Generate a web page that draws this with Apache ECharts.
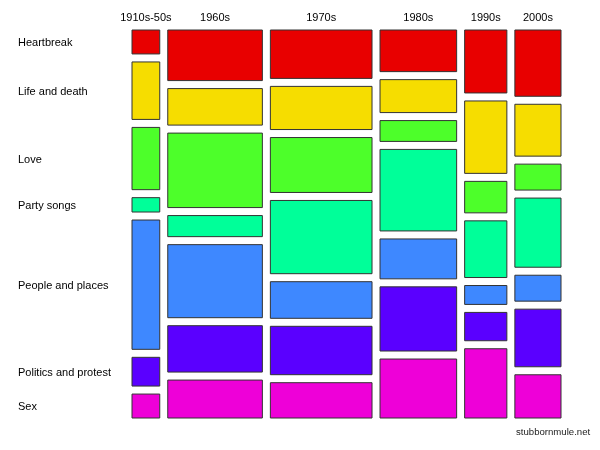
<!DOCTYPE html>
<html>
<head>
<meta charset="utf-8">
<script src="https://cdn.jsdelivr.net/npm/echarts@6/dist/echarts.min.js"></script>
<style>html,body{margin:0;padding:0;background:#fff}#c{width:600px;height:450px}</style>
</head>
<body>
<div id="c"></div>
<script>
var decades = ['1910s-50s', '1960s', '1970s', '1980s', '1990s', '2000s'];
var themes = ['Heartbreak', 'Life and death', 'Love', 'Party songs', 'People and places', 'Politics and protest', 'Sex'];
// counts per decade, in theme order
var heartbreak = [5, 36, 37, 24, 20, 23];
var lifeDeath  = [12, 26, 33, 19, 23, 18];
var love       = [13, 53, 42, 12, 10, 9];
var party      = [3, 15, 56, 47, 18, 24];
var people     = [27, 52, 28, 23, 6, 9];
var politics   = [6, 33, 37, 37, 9, 20];
var sex        = [5, 27, 27, 34, 22, 15];
var colors = ['#E80000', '#F6DD00', '#4DFF2A', '#00FF99', '#3E88FF', '#5A00FF', '#EE00D8'];

var series = [heartbreak, lifeDeath, love, party, people, politics, sex];
var colTotals = decades.map(function (d, i) {
  return series.reduce(function (s, arr) { return s + arr[i]; }, 0);
});
var grand = colTotals.reduce(function (a, b) { return a + b; }, 0);
var GAP = 8;

var cells = [];
var xCum = 0;
decades.forEach(function (d, ci) {
  var yCum = 0;
  series.forEach(function (arr, ri) {
    var f = arr[ci] / colTotals[ci];
    cells.push([ci, ri, xCum, xCum + colTotals[ci], yCum, yCum + f]);
    yCum += f;
  });
  xCum += colTotals[ci];
});

var chart = echarts.init(document.getElementById('c'));
chart.setOption({
  animation: false,
  grid: { left: 132, top: 30, width: 429 - 5 * GAP, height: 388 - 6 * GAP },
  xAxis: { type: 'value', min: 0, max: grand, show: false },
  yAxis: { type: 'value', min: 0, max: 1, inverse: true, show: false },
  graphic: [{
    type: 'text', left: 516, top: 427,
    style: { text: 'stubbornmule.net', fontFamily: 'Liberation Sans, Arial, sans-serif', fontSize: 9.6, fill: '#222' }
  }],
  series: [{
    type: 'custom',
    clip: false,
    data: cells,
    renderItem: function (params, api) {
      var ci = api.value(0), ri = api.value(1);
      var p0 = api.coord([api.value(2), api.value(4)]);
      var p1 = api.coord([api.value(3), api.value(5)]);
      var x = p0[0] + ci * GAP, y = p0[1] + ri * GAP;
      var w = p1[0] - p0[0], h = p1[1] - p0[1];
      var children = [{
        type: 'rect',
        shape: { x: x, y: y, width: w, height: h },
        style: { fill: colors[ri], stroke: '#333', lineWidth: 1 }
      }];
      if (ri === 0) {
        children.push({
          type: 'text',
          style: { text: decades[ci], x: x + w / 2, y: 17.5, align: 'center', verticalAlign: 'middle',
            fontFamily: 'Liberation Sans, Arial, sans-serif', fontSize: 11, fill: '#000' }
        });
      }
      if (ci === 0) {
        children.push({
          type: 'text',
          style: { text: themes[ri], x: 18, y: y + h / 2 + 1, align: 'left', verticalAlign: 'middle',
            fontFamily: 'Liberation Sans, Arial, sans-serif', fontSize: 11, fill: '#000' }
        });
      }
      return { type: 'group', children: children };
    }
  }]
});
</script>
</body>
</html>
